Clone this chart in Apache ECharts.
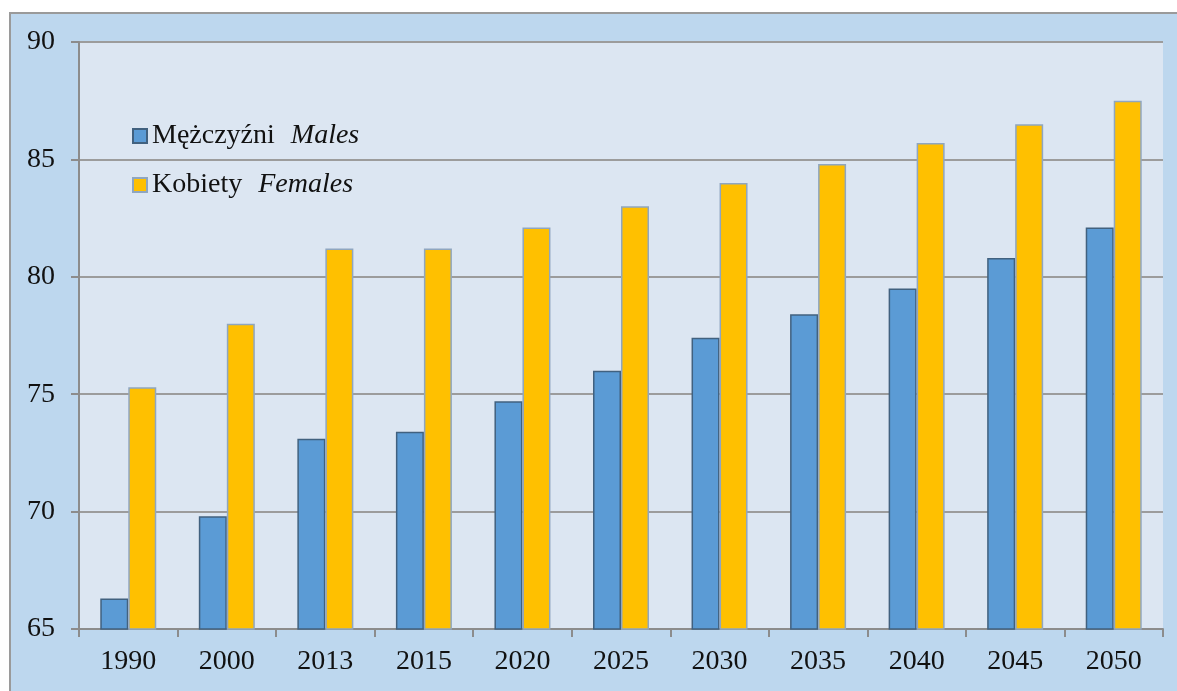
<!DOCTYPE html>
<html>
<head>
<meta charset="utf-8">
<script src="https://cdn.jsdelivr.net/npm/echarts@6/dist/echarts.min.js"></script>
<style>
  html, body { margin: 0; padding: 0; background: #ffffff; }
  #chart {
    position: absolute; left: 9px; top: 12px;
    width: 1166px; height: 677px;
    background: #bdd7ee;
    border-left: 2px solid #9a9a9a; border-top: 2px solid #9a9a9a;
  }
</style>
</head>
<body>
<div id="chart"></div>
<script>
// lata (kategorie osi X)
const years = ['1990', '2000', '2013', '2015', '2020', '2025', '2030', '2035', '2040', '2045', '2050'];
// nazwy serii: polska + angielska
const namesPl = ['Mężczyźni', 'Kobiety'];
const namesEn = ['Males', 'Females'];
// oczekiwana dalsza trwanie życia
const males   = [66.3, 69.8, 73.1, 73.4, 74.7, 76.0, 77.4, 78.4, 79.5, 80.8, 82.1];
const females = [75.3, 78.0, 81.2, 81.2, 82.1, 83.0, 84.0, 84.8, 85.7, 86.5, 87.5];

const FONT = '"Liberation Serif", "DejaVu Serif", serif';

const chart = echarts.init(document.getElementById('chart'));

chart.setOption({
    animation: false,
    textStyle: { fontFamily: FONT },
    grid: {
        left: 68, top: 28, right: 14, bottom: 62,
        show: true, backgroundColor: '#dce6f2', borderWidth: 0
    },
    legend: {
        orient: 'vertical',
        left: 116, top: 103,
        itemWidth: 14, itemHeight: 14,
        itemGap: 21,
        icon: 'rect',
        data: namesPl,
        formatter: function (name) {
            const i = namesPl.indexOf(name);
            return '{a|' + name + '}{b|' + namesEn[i] + '}';
        },
        textStyle: {
            color: '#111111',
            rich: {
                a: { fontFamily: FONT, fontSize: 28, color: '#111111' },
                b: { fontFamily: FONT, fontSize: 28, fontStyle: 'italic', color: '#111111', padding: [0, 0, 0, 16] }
            }
        }
    },
    xAxis: {
        type: 'category',
        data: years,
        axisLine: { lineStyle: { color: '#8c8c8c', width: 2 } },
        axisTick: { show: true, length: 8, lineStyle: { color: '#8c8c8c', width: 2 } },
        axisLabel: { margin: 19, fontSize: 28, color: '#111111', fontFamily: FONT }
    },
    yAxis: {
        type: 'value',
        min: 65, max: 90, interval: 5,
        axisLine: { show: true, lineStyle: { color: '#8c8c8c', width: 2 } },
        axisTick: { show: true, length: 8, lineStyle: { color: '#8c8c8c', width: 2 } },
        axisLabel: { margin: 24, fontSize: 28, color: '#111111', fontFamily: FONT },
        splitLine: { lineStyle: { color: '#9c9c9c', width: 2 } }
    },
    series: [
        {
            name: namesPl[0],
            type: 'bar',
            data: males,
            barWidth: 28,
            barGap: '0%',
            itemStyle: { color: '#5b9bd5', borderColor: '#41617f', borderWidth: 1.5 }
        },
        {
            name: namesPl[1],
            type: 'bar',
            data: females,
            barWidth: 28,
            itemStyle: { color: '#ffc000', borderColor: '#8fa6c0', borderWidth: 1.5 }
        }
    ]
});
</script>
</body>
</html>
